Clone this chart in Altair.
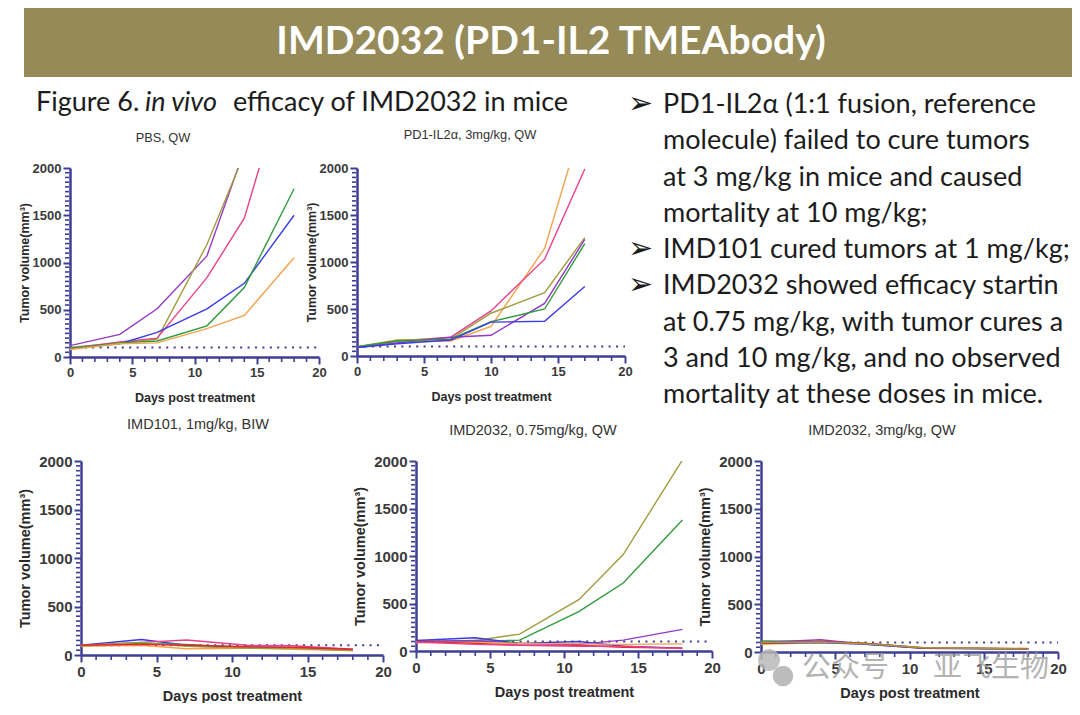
import altair as alt
import pandas as pd

# ---------------- text ----------------
TITLE_TEXT = "IMD2032 (PD1-IL2 TMEAbody)"
SUB_PARTS = ["Figure 6.", "in vivo", "efficacy of IMD2032 in mice"]
BULLET_LINES = [
    "PD1-IL2\u03b1 (1:1 fusion, reference",
    "molecule) failed to cure tumors",
    "at 3 mg/kg in mice and caused",
    "mortality at 10 mg/kg;",
    "IMD101 cured tumors at 1 mg/kg;",
    "IMD2032 showed efficacy starting",
    "at 0.75 mg/kg, with tumor cures at",
    "3 and 10 mg/kg, and no observed",
    "mortality at these doses in mice.",
]
ARROW = "\u27a2"
ARROW_ROWS = [0, 4, 5]
WATERMARK = ["\u516c\u4f17\u53f7", "\u4e9a\u98de\u751f\u7269"]

PANEL_TITLES = ["PBS, QW", "PD1-IL2\u03b1, 3mg/kg, QW", "IMD101, 1mg/kg, BIW",
                "IMD2032, 0.75mg/kg, QW", "IMD2032, 3mg/kg, QW"]
X_TITLE = "Days post treatment"
Y_TITLE = "Tumor volume(mm\u00b3)"

# ---------------- series ----------------
MICE = ["purple", "olive", "pink", "green", "blue", "orange", "red"]
MOUSE_COLORS = ["#9438C6", "#A09C3C", "#E8418C", "#2F9B3B", "#3A3AE6", "#F5A24C", "#E5262D"]

X_MAJOR = [0, 5, 10, 15, 20]
X_MINOR = [v for v in range(0, 21) if v % 5 != 0]
Y_MAJOR = [0, 500, 1000, 1500, 2000]
Y_MINOR = [v for v in range(0, 2001, 50) if v % 500 != 0]
BASELINE_VOLUME = 100

PBS_DAYS = [0, 4, 7, 11, 14, 18]
PBS = {
    "purple": [120, 240, 510, 1070, 2190, None],
    "olive": [100, 150, 190, 1190, 2150, None],
    "pink": [90, 160, 200, 840, 1470, 3240],
    "blue": [90, 140, 260, 510, 780, 1500],
    "green": [90, 150, 170, 330, 735, 1780],
    "orange": [80, 140, 150, 300, 440, 1050],
}

PD1_DAYS = [0, 3, 7, 10, 14, 17]
PD1 = {
    "orange": [100, 150, 160, 315, 1145, 2570],
    "pink": [90, 160, 200, 480, 1030, 1990],
    "olive": [100, 170, 180, 455, 675, 1260],
    "purple": [90, 140, 200, 220, 560, 1240],
    "green": [100, 160, 180, 365, 500, 1195],
    "blue": [90, 130, 170, 360, 370, 740],
}

IMD101_DAYS = [0, 4, 7, 11, 14, 18]
IMD101 = {
    "blue": [100, 160, 100, 80, 75, 55],
    "pink": [100, 130, 155, 100, 95, 60],
    "green": [100, 120, 110, 75, 65, 50],
    "orange": [90, 100, 65, 70, 60, 45],
    "olive": [95, 130, 90, 70, 70, 45],
    "red": [100, 110, 100, 85, 80, 60],
}

IMD075_DAYS = [0, 4, 7, 11, 14, 18]
IMD075 = {
    "olive": [100, 110, 178, 540, 1015, 2010],
    "green": [90, 100, 115, 415, 715, 1380],
    "purple": [100, 110, 80, 70, 115, 228],
    "blue": [110, 140, 80, 100, 50, 30],
    "orange": [90, 90, 80, 75, 70, 75],
    "red": [100, 80, 60, 60, 40, 30],
    "pink": [95, 70, 60, 50, 50, 25],
}

IMD3_DAYS = [0, 4, 7, 11, 14, 18]
IMD3 = {
    "green": [115, 110, 90, 42, 40, 32],
    "purple": [100, 128, 82, 40, 36, 30],
    "orange": [80, 100, 90, 45, 40, 36],
    "blue": [90, 100, 80, 40, 35, 30],
    "red": [90, 110, 92, 42, 40, 35],
    "olive": [100, 105, 86, 45, 40, 30],
}

# ---------------- style ----------------
NAVY = "#3E3E94"
BAR = "#958A58"
TEXT = "#1c1c1c"


def long_df(days, series):
    rows = []
    for mouse, vals in series.items():
        for d, v in zip(days, vals):
            if v is not None:
                rows.append({"mouse": mouse, "day": d, "vol": v})
    return pd.DataFrame(rows)


def panel(days, series, title, w, h, tx, ty, big, extra=None):
    lab = 15 if big else 13
    tit = 14.5 if big else 12.5
    common = dict(domainColor=NAVY, domainWidth=2.5, tickColor=NAVY, tickSize=7, tickWidth=2,
                  labelColor="#3a3a3a", labelFont="Liberation Sans", labelFontWeight="bold",
                  labelFontSize=lab, titleFont="Liberation Sans", titleFontWeight="bold",
                  titleFontSize=tit, titleColor="#2a2a2a", grid=False, format="d",
                  labelOverlap=False, labelFlush=False, labelPadding=2)
    x_axis = alt.Axis(values=X_MAJOR, titlePadding=(10 if big else 12), **common)
    y_axis = alt.Axis(values=Y_MAJOR, titlePadding=(6 if big else 1), **common)
    xs = alt.Scale(domain=[0, 20], nice=False)
    ys = alt.Scale(domain=[0, 2000], nice=False)
    X = alt.X("day:Q", scale=xs, axis=x_axis, title=X_TITLE)
    Y = alt.Y("vol:Q", scale=ys, axis=y_axis, title=Y_TITLE)
    lines = alt.Chart(long_df(days, series)).mark_line(strokeWidth=1.4, clip=True).encode(
        x=X, y=Y,
        color=alt.Color("mouse:N", scale=alt.Scale(domain=MICE, range=MOUSE_COLORS), legend=None),
    )
    xminor = alt.Chart(pd.DataFrame({"day": X_MINOR})).mark_rule(
        color=NAVY, strokeWidth=1.6).encode(x=X, y=alt.value(h + 1), y2=alt.value(h + 5))
    yminor = alt.Chart(pd.DataFrame({"vol": Y_MINOR})).mark_rule(
        color=NAVY, strokeWidth=1.6).encode(y=Y, x=alt.value(-5), x2=alt.value(-1))
    ref = alt.Chart(pd.DataFrame({"vol": [BASELINE_VOLUME]})).mark_rule(
        color=NAVY, strokeWidth=2, strokeDash=[2, 5.4]).encode(
        x=alt.datum(0, scale=xs), x2=alt.datum(20), y=Y)
    ttl = alt.Chart(pd.DataFrame({"t": [title]})).mark_text(
        font="Liberation Sans", fontSize=(14.5 if big else 12.8), color="#333333",
        align="center", baseline="middle").encode(
        text="t:N", x=alt.value(tx), y=alt.value(ty))
    layers = [xminor, yminor, ref, lines, ttl] + (extra or [])
    return alt.layer(*layers).properties(width=w, height=h)


def spacer(w, h=10):
    return alt.Chart(pd.DataFrame({"s": [0]})).mark_point(opacity=0).properties(width=w, height=h)


one = pd.DataFrame({"k": [0]})

# ---------------- header chart (origin at page x=70, y=8) ----------------
anchor = alt.Chart(one).mark_rect(opacity=0).encode(
    x=alt.value(-62), x2=alt.value(-61), y=alt.value(0), y2=alt.value(1))
bar = alt.Chart(one).mark_rect(color=BAR).encode(
    x=alt.value(-46), x2=alt.value(1002), y=alt.value(0), y2=alt.value(69))
title = alt.Chart(pd.DataFrame({"t": [TITLE_TEXT]})).mark_text(
    font="Lato", fontSize=39, fontWeight="bold", color="white", align="center",
    baseline="middle").encode(text="t:N", x=alt.value(481), y=alt.value(34))
sub_x = [-34, 75, 163]
subs = []
for i, part in enumerate(SUB_PARTS):
    subs.append(alt.Chart(pd.DataFrame({"t": [part]})).mark_text(
        font="Lato", fontSize=27, color=TEXT, align="left", baseline="alphabetic",
        fontStyle=("italic" if i == 1 else "normal")).encode(
        text="t:N", x=alt.value(sub_x[i]), y=alt.value(103)))
bullets = alt.Chart(one).mark_text(
    font="Lato", fontSize=27, color=TEXT, align="left", baseline="alphabetic",
    lineHeight=36.25, limit=408, ellipsis="\u200b").encode(
    text=alt.value(BULLET_LINES), x=alt.value(593), y=alt.value(105))
arrows = []
for r in ARROW_ROWS:
    arrows.append(alt.Chart(pd.DataFrame({"t": [ARROW]})).mark_text(
        font="DejaVu Sans", fontSize=30, color=TEXT, align="left", baseline="alphabetic").encode(
        text="t:N", x=alt.value(558), y=alt.value(105 + 36.25 * r)))
header = alt.layer(anchor, bar, title, *subs, *arrows, bullets).properties(width=1002, height=150)

# ---------------- watermark (in last panel) ----------------
wm = [
    alt.Chart(one).mark_circle(color="#b9b9b9", opacity=0.85, size=480).encode(
        x=alt.value(8), y=alt.value(199)),
    alt.Chart(one).mark_circle(color="#b0b0b0", opacity=0.85, size=420).encode(
        x=alt.value(22), y=alt.value(215)),
    alt.Chart(pd.DataFrame({"t": [WATERMARK[0]]})).mark_text(
        font="Noto Sans CJK SC", fontSize=29, color="#9a9a9a", opacity=0.75,
        align="left", baseline="middle").encode(text="t:N", x=alt.value(41), y=alt.value(207)),
    alt.Chart(pd.DataFrame({"t": [WATERMARK[1]]})).mark_text(
        font="Noto Sans CJK SC", fontSize=29, color="#9a9a9a", opacity=0.75,
        align="left", baseline="middle").encode(text="t:N", x=alt.value(172), y=alt.value(207)),
]

p1 = panel(PBS_DAYS, PBS, PANEL_TITLES[0], 249, 189, 93, -30, False)
p2 = panel(PD1_DAYS, PD1, PANEL_TITLES[1], 268, 188, 113, -33, False)
p3 = panel(IMD101_DAYS, IMD101, PANEL_TITLES[2], 302, 194, 117, -36, True)
p4 = panel(IMD075_DAYS, IMD075, PANEL_TITLES[3], 296, 190, 117, -30, True)
p5 = panel(IMD3_DAYS, IMD3, PANEL_TITLES[4], 297, 191, 121, -30, True, extra=wm)

row_b = alt.hconcat(p1, p2, spacing=38, bounds="flush")
row_c = alt.hconcat(spacer(11), p3, spacer(33), p4, spacer(49), p5, spacing=0, bounds="flush")

chart = alt.vconcat(header, row_b, spacer(10, 273), row_c, spacing=10, bounds="flush").properties(
    padding=0, background="white").configure_view(stroke=None)

chart.save("out.html", embed_options={"renderer": "svg", "actions": False})
